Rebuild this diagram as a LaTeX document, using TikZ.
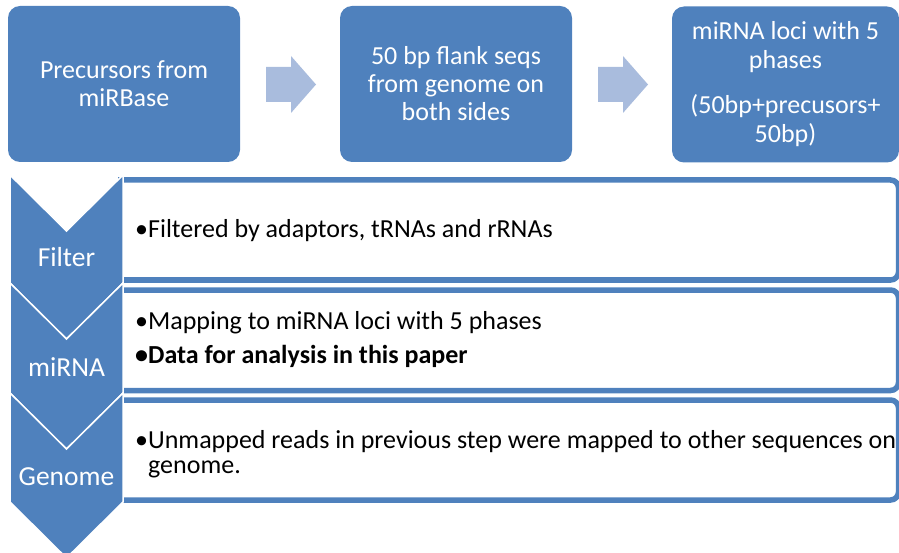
\documentclass[tikz,border=0pt]{standalone}
\usepackage{fontspec}
\setmainfont{Carlito}
\definecolor{ablue}{HTML}{4F81BD}
\definecolor{aarrow}{HTML}{A9BCDD}
\begin{document}
\begin{tikzpicture}[x=1pt,y=-1pt,
  topbox/.style={rounded corners=12pt, fill=ablue, minimum height=156pt, inner sep=0pt, text=white, align=center, font=\fontsize{26}{28}\selectfont},
  flowarrow/.style={fill=aarrow},
  panel/.style={draw=ablue, line width=5.5pt, rounded corners=8pt},
  chev/.style={fill=ablue, draw=white, line width=1.5pt, line join=miter},
  chevlabel/.style={text=white, font=\fontsize{27.5}{30}\selectfont, inner sep=0pt},
  bodytext/.style={anchor=base west, inner sep=0pt, font=\fontsize{26}{25}\selectfont}]
\useasboundingbox (0,0) rectangle (899,553);
\clip (0,0) rectangle (899,553);
% top process
\node[topbox, minimum width=232pt] (pre) at (124,84) {Precursors from\\miRBase};
\node[topbox, minimum width=232pt] (flank) at (456,84) {50 bp flank seqs\\from genome on\\both sides};
\node[topbox, minimum width=227pt, font=\fontsize{26}{29}\selectfont] (loci) at (785.5,84.5) {miRNA loci with 5\\phases\\[16pt](50bp+precusors+\\50bp)};
\fill[flowarrow] (266,67) -- (291,67) -- (291,56) -- (316,84.5) -- (291,113) -- (291,102) -- (266,102) -- cycle;
\fill[flowarrow] (598,67) -- (623,67) -- (623,56) -- (648,84.5) -- (623,113) -- (623,102) -- (598,102) -- cycle;
% panels
\draw[panel] (118,180) -- (898.5,180) -- (898.5,280) -- (118,280);
\draw[panel] (118,290) -- (898.5,290) -- (898.5,390.5) -- (118,390.5);
\draw[panel] (118,400) -- (898.5,400) -- (898.5,500) -- (118,500);
% chevrons
\filldraw[chev] (10,175) -- (66.5,231) -- (123,175) -- (123,283) -- (66.5,339) -- (10,283) -- cycle;
\filldraw[chev] (10,283) -- (66.5,339) -- (123,283) -- (123,393) -- (66.5,449) -- (10,393) -- cycle;
\filldraw[chev] (10,393) -- (66.5,449) -- (123,393) -- (123,502) -- (66.5,558) -- (10,502) -- cycle;
\node[chevlabel] (lfilter) at (66.5,257) {Filter};
\node[chevlabel] (lmirna) at (66.5,367) {miRNA};
\node[chevlabel] (lgenome) at (66.5,477) {Genome};
% texts
\node[bodytext] (t1) at (135,238) {•Filtered by adaptors, tRNAs and rRNAs};
\node[bodytext] (t2) at (135,329) {•Mapping to miRNA loci with 5 phases};
\node[bodytext] (t3) at (135,363) {\textbf{•Data for analysis in this paper}};
\node[bodytext] (t4) at (135,448) {•Unmapped reads in previous step were mapped to other sequences on};
\node[bodytext] (t5) at (148,473) {genome.};
\end{tikzpicture}
\end{document}
